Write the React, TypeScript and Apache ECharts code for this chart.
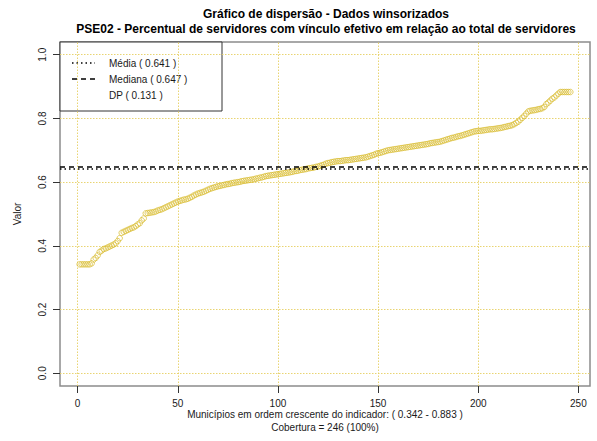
import React, { useEffect, useRef } from "react";
import * as echarts from "echarts";

const TITLE1 = "Gráfico de dispersão - Dados winsorizados";
const TITLE2 = "PSE02 - Percentual de servidores com vínculo efetivo em relação ao total de servidores";
const XLAB1 = "Municípios em ordem crescente do indicador: ( 0.342 - 0.883 )";
const XLAB2 = "Cobertura = 246 (100%)";
const YLAB = "Valor";

const xTicks = [0, 50, 100, 150, 200, 250];
const yTicks = [0, 0.2, 0.4, 0.6, 0.8, 1.0];

const MEAN = 0.641;
const MEDIAN = 0.647;
const SD = 0.131;

// sorted indicator values, one per municipality (246)
const values = [
  0.342, 0.342, 0.342, 0.342, 0.342, 0.342, 0.345, 0.357, 0.362, 0.370,
  0.381, 0.385, 0.390, 0.392, 0.395, 0.398, 0.401, 0.404, 0.408, 0.415,
  0.424, 0.441, 0.444, 0.447, 0.450, 0.453, 0.456, 0.458, 0.462, 0.467,
  0.471, 0.480, 0.486, 0.502, 0.503, 0.504, 0.505, 0.506, 0.508, 0.511,
  0.513, 0.515, 0.518, 0.521, 0.524, 0.527, 0.530, 0.533, 0.536, 0.539,
  0.541, 0.543, 0.545, 0.546, 0.548, 0.551, 0.554, 0.558, 0.561, 0.564,
  0.566, 0.568, 0.570, 0.573, 0.576, 0.579, 0.581, 0.583, 0.585, 0.587,
  0.588, 0.590, 0.591, 0.593, 0.594, 0.595, 0.597, 0.598, 0.599, 0.600,
  0.601, 0.603, 0.604, 0.605, 0.606, 0.607, 0.608, 0.609, 0.611, 0.612,
  0.614, 0.615, 0.617, 0.619, 0.620, 0.621, 0.622, 0.623, 0.624, 0.625,
  0.626, 0.627, 0.628, 0.629, 0.630, 0.631, 0.632, 0.634, 0.635, 0.636,
  0.638, 0.639, 0.640, 0.641, 0.643, 0.644, 0.645, 0.646, 0.648, 0.649,
  0.651, 0.653, 0.655, 0.658, 0.660, 0.661, 0.663, 0.664, 0.665, 0.666,
  0.666, 0.667, 0.668, 0.669, 0.669, 0.670, 0.671, 0.672, 0.673, 0.674,
  0.675, 0.676, 0.677, 0.678, 0.680, 0.682, 0.684, 0.686, 0.689, 0.691,
  0.692, 0.694, 0.696, 0.698, 0.700, 0.701, 0.702, 0.703, 0.704, 0.705,
  0.706, 0.707, 0.708, 0.709, 0.710, 0.711, 0.712, 0.713, 0.714, 0.715,
  0.716, 0.717, 0.718, 0.719, 0.720, 0.722, 0.723, 0.724, 0.725, 0.726,
  0.727, 0.729, 0.731, 0.733, 0.735, 0.737, 0.739, 0.740, 0.742, 0.744,
  0.745, 0.747, 0.749, 0.751, 0.753, 0.755, 0.757, 0.759, 0.760, 0.761,
  0.761, 0.762, 0.763, 0.764, 0.765, 0.766, 0.766, 0.767, 0.768, 0.769,
  0.770, 0.771, 0.773, 0.774, 0.776, 0.777, 0.779, 0.782, 0.786, 0.790,
  0.796, 0.802, 0.808, 0.815, 0.822, 0.824, 0.825, 0.826, 0.827, 0.829,
  0.830, 0.832, 0.836, 0.845, 0.850, 0.856, 0.862, 0.866, 0.872, 0.878,
  0.883, 0.883, 0.883, 0.883, 0.883, 0.883,
];

const FONT = '"Liberation Sans", Arial, sans-serif';
const TEXT = "#1a1a1a";
const GOLD = "#d8bb2c";
const GRIDGOLD = "#e6cf62";

export default function App() {
  const ref = useRef<HTMLDivElement>(null);
  useEffect(() => {
    if (!ref.current) return;
    const chart = echarts.init(ref.current, null, { renderer: "svg" });
    const n = values.length;
    const xMin = 1 - 0.04 * (n - 1);
    const xMax = n + 0.04 * (n - 1);
    chart.setOption({
      animation: false,
      backgroundColor: "#fff",
      grid: {
        left: 60,
        top: 42,
        right: 7,
        bottom: 55,
        show: true,
        borderColor: "#8c8c8c",
        borderWidth: 1.5,
        backgroundColor: "transparent",
      },
      xAxis: {
        type: "value",
        min: xMin,
        max: xMax,
        splitLine: { show: false },
        axisLine: { show: false, onZero: false },
        axisTick: { show: true, length: 7, customValues: xTicks, lineStyle: { color: "#333", width: 1 } },
        axisLabel: { customValues: xTicks, margin: 12, fontSize: 10, color: TEXT, fontFamily: FONT },
      },
      yAxis: {
        type: "value",
        min: -0.04,
        max: 1.04,
        splitLine: { show: false },
        axisLine: { show: false, onZero: false },
        axisTick: { show: true, length: 7, customValues: yTicks, lineStyle: { color: "#333", width: 1 } },
        axisLabel: {
          customValues: yTicks,
          rotate: 90,
          margin: 13,
          fontSize: 10,
          color: TEXT,
          fontFamily: FONT,
          formatter: (v: number) => v.toFixed(1),
        },
      },
      series: [
        {
          type: "scatter",
          data: values.map((v, i) => [i + 1, v]),
          symbol: "circle",
          symbolSize: 5.5,
          itemStyle: { color: "transparent", borderColor: GOLD, borderWidth: 0.9 },
          emphasis: { disabled: true },
          silent: true,
          z: 3,
          markLine: {
            silent: true,
            symbol: ["none", "none"],
            label: { show: false },
            precision: 3,
            z: 1,
            lineStyle: { color: GRIDGOLD, type: [1.5, 1.5], width: 0.9 },
            data: [
              ...xTicks.map((x) => ({ xAxis: x })),
              ...yTicks.map((y) => ({ yAxis: y })),
            ],
          },
        },
        {
          type: "scatter",
          data: [],
          silent: true,
          markLine: {
            silent: true,
            symbol: ["none", "none"],
            label: { show: false },
            precision: 3,
            z: 6,
            data: [
              { yAxis: MEAN, lineStyle: { color: "#000", type: [1.5, 3], width: 1.5 } },
              { yAxis: MEDIAN, lineStyle: { color: "#000", type: [5, 4], width: 1.5 } },
            ],
          },
        },
      ],
      graphic: [
        {
          type: "text",
          x: 326,
          y: 14,
          style: { text: TITLE1, align: "center", verticalAlign: "middle", font: `bold 12px ${FONT}`, fill: "#000" },
        },
        {
          type: "text",
          x: 326,
          y: 29,
          style: { text: TITLE2, align: "center", verticalAlign: "middle", font: `bold 12px ${FONT}`, fill: "#000" },
        },
        {
          type: "text",
          x: 325,
          y: 414,
          style: { text: XLAB1, align: "center", verticalAlign: "middle", font: `10px ${FONT}`, fill: TEXT },
        },
        {
          type: "text",
          x: 325,
          y: 427,
          style: { text: XLAB2, align: "center", verticalAlign: "middle", font: `10px ${FONT}`, fill: TEXT },
        },
        {
          type: "text",
          x: 17,
          y: 214,
          rotation: Math.PI / 2,
          style: { text: YLAB, align: "center", verticalAlign: "middle", font: `10px ${FONT}`, fill: TEXT },
        },
        {
          type: "group",
          z: 100,
          children: [
            {
              type: "rect",
              shape: { x: 60, y: 42, width: 162, height: 69 },
              style: { fill: "#fff", stroke: "#333", lineWidth: 1 },
            },
            {
              type: "line",
              shape: { x1: 72, y1: 63, x2: 95, y2: 63 },
              style: { stroke: "#000", lineWidth: 1.5, lineDash: [1.5, 3] },
            },
            {
              type: "line",
              shape: { x1: 72, y1: 79, x2: 95, y2: 79 },
              style: { stroke: "#000", lineWidth: 1.5, lineDash: [5, 4] },
            },
            {
              type: "text",
              x: 109,
              y: 63,
              style: { text: `Média ( ${MEAN} )`, verticalAlign: "middle", font: `10px ${FONT}`, fill: TEXT },
            },
            {
              type: "text",
              x: 109,
              y: 79,
              style: { text: `Mediana ( ${MEDIAN} )`, verticalAlign: "middle", font: `10px ${FONT}`, fill: TEXT },
            },
            {
              type: "text",
              x: 109,
              y: 95,
              style: { text: `DP ( ${SD} )`, verticalAlign: "middle", font: `10px ${FONT}`, fill: TEXT },
            },
          ],
        },
      ],
    });
    return () => chart.dispose();
  }, []);
  return <div ref={ref} style={{ position: "fixed", left: 0, top: 0, width: 597, height: 441 }} />;
}
